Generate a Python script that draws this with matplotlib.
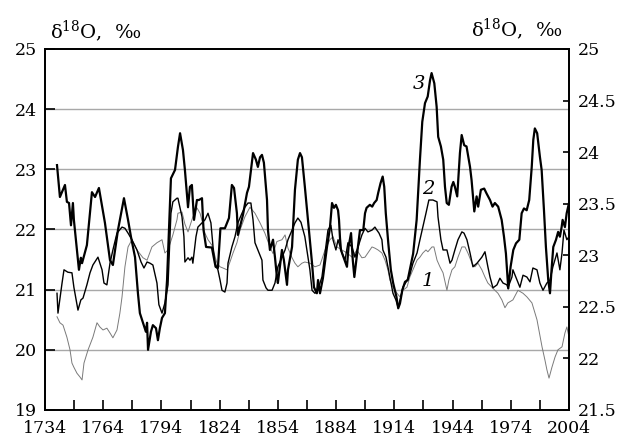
import numpy as np
import matplotlib
matplotlib.use("Agg")
import matplotlib.pyplot as plt

plt.rcParams['font.family'] = ['DejaVu Serif']
plt.rcParams['mathtext.fontset'] = 'dejavuserif'

# curve 1 (thin grey)
years1 = [1740.2, 1741.7, 1743.3, 1745.3, 1746.9, 1747.9, 1748.9, 1750.5, 1752.0, 1753.1,
          1754.1, 1756.2, 1758.7, 1760.8, 1762.3, 1763.9, 1765.9, 1767.5, 1769.0, 1771.1,
          1772.6, 1773.7, 1775.2, 1776.8, 1778.8, 1781.4, 1784.5, 1786.6, 1789.1, 1791.7,
          1794.3, 1795.8, 1797.4, 1799.9, 1802.0, 1802.5, 1804.6, 1806.1, 1807.7, 1810.2,
          1812.3, 1813.9, 1815.4, 1816.4, 1818.0, 1820.0, 1822.6, 1824.2, 1825.7, 1827.8,
          1829.3, 1830.9, 1832.9, 1834.5, 1837.0, 1839.6, 1842.2, 1844.8, 1847.3, 1849.9,
          1851.5, 1853.5, 1856.1, 1857.7, 1859.2, 1861.3, 1862.8, 1864.3, 1866.4, 1867.9,
          1870.5, 1873.1, 1875.7, 1878.3, 1880.8, 1882.4, 1884.4, 1887.0, 1889.6, 1892.2,
          1894.7, 1897.3, 1898.9, 1900.4, 1902.5, 1904.0, 1905.6, 1907.6, 1909.2, 1910.7,
          1911.7, 1913.3, 1915.4, 1916.9, 1918.4, 1920.5, 1922.0, 1923.6, 1925.7, 1927.2,
          1928.7, 1930.3, 1931.3, 1933.4, 1934.4, 1936.0, 1937.5, 1939.1, 1941.1, 1942.1,
          1943.7, 1945.2, 1946.8, 1948.8, 1950.4, 1951.9, 1954.0, 1955.5, 1957.1, 1959.1,
          1960.7, 1962.2, 1964.3, 1965.8, 1967.4, 1969.4, 1971.0, 1972.5, 1975.1, 1977.7,
          1980.3, 1982.3, 1984.9, 1987.5, 1990.1, 1991.6, 1992.6, 1993.7, 1995.2, 1996.8,
          1998.3, 2000.4, 2001.9, 2002.9, 2004.0]
vals1 = [20.55, 20.45, 20.41, 20.21, 20.00, 19.78, 19.71, 19.61, 19.55, 19.50,
         19.78, 20.00, 20.21, 20.45, 20.38, 20.33, 20.36, 20.28, 20.20, 20.33,
         20.61, 20.88, 21.38, 21.71, 21.83, 21.66, 21.53, 21.49, 21.71, 21.78,
         21.83, 21.61, 21.66, 21.91, 22.16, 22.27, 22.29, 22.09, 21.96, 22.21,
         22.36, 22.27, 22.09, 21.94, 21.83, 21.74, 21.44, 21.38, 21.36, 21.33,
         21.46, 21.61, 21.78, 21.99, 22.21, 22.37, 22.27, 22.11, 21.94, 21.71,
         21.60, 21.80, 21.83, 21.91, 21.69, 21.53, 21.44, 21.38, 21.44, 21.46,
         21.44, 21.38, 21.41, 21.66, 21.83, 21.88, 21.71, 21.66, 21.61, 21.54,
         21.66, 21.53, 21.54, 21.61, 21.71, 21.69, 21.66, 21.61, 21.49, 21.33,
         21.16, 21.04, 20.94, 20.88, 20.99, 21.04, 21.21, 21.33, 21.49, 21.54,
         21.61, 21.66, 21.63, 21.71, 21.71, 21.49, 21.38, 21.28, 20.99, 21.16,
         21.33, 21.38, 21.54, 21.71, 21.71, 21.61, 21.44, 21.38, 21.44, 21.33,
         21.21, 21.11, 21.04, 20.99, 20.94, 20.83, 20.70, 20.78, 20.83, 20.99,
         20.94, 20.88, 20.78, 20.50, 20.05, 19.83, 19.67, 19.53, 19.71, 19.88,
         20.00, 20.05, 20.28, 20.38, 20.21]

# curve 2 (medium black)
years2 = [1740.2, 1740.7, 1742.8, 1743.8, 1745.8, 1747.9, 1748.9, 1751.0, 1752.5, 1753.6,
          1755.6, 1757.2, 1758.7, 1761.3, 1763.4, 1764.4, 1765.9, 1767.5, 1769.0, 1771.1,
          1773.7, 1775.2, 1776.8, 1778.8, 1781.4, 1783.5, 1785.0, 1786.6, 1788.1, 1789.6,
          1791.7, 1792.7, 1794.3, 1795.8, 1797.4, 1798.9, 1799.9, 1802.0, 1802.5, 1804.6,
          1805.6, 1806.1, 1807.7, 1808.7, 1809.7, 1810.2, 1811.8, 1812.8, 1814.9, 1816.4,
          1818.0, 1819.5, 1820.6, 1821.6, 1823.1, 1824.2, 1825.2, 1826.7, 1827.8, 1828.3,
          1830.3, 1831.9, 1833.4, 1835.5, 1837.0, 1838.6, 1840.1, 1841.2, 1842.2, 1843.7,
          1845.8, 1846.3, 1847.9, 1848.9, 1851.0, 1852.5, 1854.0, 1856.1, 1857.7, 1859.2,
          1861.3, 1862.8, 1864.3, 1865.9, 1867.9, 1869.5, 1870.5, 1871.6, 1873.1, 1874.7,
          1875.7, 1876.7, 1878.3, 1879.8, 1881.3, 1882.4, 1883.9, 1885.0, 1887.0, 1888.6,
          1890.1, 1892.2, 1893.7, 1895.3, 1897.3, 1898.9, 1900.4, 1902.5, 1904.0, 1905.0,
          1906.1, 1907.6, 1908.1, 1909.7, 1910.7, 1912.3, 1913.3, 1914.8, 1915.9, 1917.4,
          1918.4, 1920.5, 1922.0, 1923.6, 1925.7, 1927.2, 1928.7, 1930.3, 1931.8, 1933.9,
          1936.0, 1936.5, 1938.0, 1939.1, 1941.1, 1942.7, 1943.7, 1945.2, 1946.8, 1948.8,
          1949.9, 1951.4, 1953.0, 1954.5, 1956.6, 1959.1, 1960.7, 1962.2, 1963.3, 1964.8,
          1966.9, 1968.4, 1970.0, 1972.0, 1972.5, 1974.6, 1975.1, 1977.2, 1978.7, 1980.3,
          1982.3, 1983.9, 1985.4, 1987.5, 1989.0, 1990.6, 1992.6, 1994.2, 1995.7, 1997.8,
          1999.3, 2000.4, 2001.4, 2002.9, 2004.0]
vals2 = [20.94, 20.61, 21.11, 21.33, 21.29, 21.28, 21.04, 20.66, 20.83, 20.86,
         21.08, 21.28, 21.41, 21.54, 21.33, 21.11, 21.08, 21.44, 21.66, 21.94,
         22.04, 22.02, 21.94, 21.83, 21.66, 21.46, 21.36, 21.46, 21.44, 21.41,
         21.11, 20.75, 20.61, 20.78, 21.08, 22.27, 22.46, 22.52, 22.52, 22.21,
         21.88, 21.46, 21.53, 21.49, 21.54, 21.44, 21.88, 22.04, 22.11, 22.16,
         22.27, 22.11, 21.71, 21.44, 21.33, 21.16, 20.99, 20.96, 21.11, 21.44,
         21.71, 21.88, 22.11, 22.27, 22.37, 22.44, 22.44, 22.16, 21.78, 21.66,
         21.49, 21.16, 21.03, 20.99, 20.99, 21.11, 21.38, 21.54, 21.66, 21.83,
         21.99, 22.11, 22.19, 22.12, 21.88, 21.54, 21.33, 20.99, 20.94, 20.99,
         21.11, 21.21, 21.61, 21.99, 22.07, 21.83, 21.66, 21.83, 21.61, 21.49,
         21.78, 21.71, 21.54, 21.71, 21.91, 22.02, 21.96, 21.99, 22.04, 21.99,
         21.94, 21.83, 21.66, 21.54, 21.38, 21.11, 20.94, 20.83, 20.71, 20.88,
         21.04, 21.15, 21.25, 21.44, 21.61, 21.83, 22.04, 22.27, 22.49, 22.49,
         22.46, 22.21, 21.83, 21.66, 21.66, 21.44, 21.49, 21.66, 21.83, 21.96,
         21.94, 21.83, 21.61, 21.38, 21.44, 21.54, 21.63, 21.38, 21.21, 21.03,
         21.08, 21.19, 21.11, 21.08, 21.03, 21.21, 21.33, 21.16, 21.04, 21.24,
         21.21, 21.13, 21.36, 21.33, 21.11, 20.99, 21.11, 21.16, 21.38, 21.61,
         21.33, 21.61, 21.99, 21.83, 21.88]

# curve 3 (thick black)
years3 = [1740.2, 1741.7, 1744.3, 1745.3, 1746.4, 1747.4, 1748.4, 1748.9, 1751.5, 1752.5,
          1753.1, 1755.6, 1758.2, 1759.8, 1761.8, 1764.9, 1767.5, 1769.0, 1771.6, 1774.7,
          1776.8, 1778.3, 1780.4, 1781.9, 1782.9, 1784.5, 1786.0, 1786.6, 1787.1, 1788.6,
          1789.6, 1791.2, 1792.2, 1793.2, 1794.3, 1795.8, 1796.9, 1798.9, 1801.0, 1802.5,
          1803.6, 1805.1, 1806.1, 1807.7, 1808.7, 1809.7, 1810.8, 1812.3, 1813.3, 1814.9,
          1815.7, 1817.0, 1820.0, 1821.9, 1823.1, 1824.4, 1826.7, 1828.8, 1830.3, 1831.4,
          1832.9, 1833.4, 1835.0, 1836.0, 1838.1, 1839.1, 1840.6, 1841.2, 1842.7, 1843.7,
          1844.8, 1845.8, 1846.8, 1848.4, 1848.9, 1849.9, 1851.5, 1852.5, 1853.5, 1854.0,
          1856.1, 1857.1, 1858.7, 1859.2, 1861.3, 1862.8, 1864.3, 1865.4, 1866.4, 1867.9,
          1869.5, 1870.5, 1871.6, 1872.6, 1874.1, 1874.7, 1875.7, 1877.2, 1879.3, 1880.8,
          1881.9, 1882.9, 1883.9, 1885.0, 1885.5, 1886.0, 1886.5, 1887.7, 1889.6, 1890.4,
          1891.7, 1892.6, 1893.4, 1894.6, 1896.3, 1898.0, 1898.9, 1899.7, 1901.4, 1902.6,
          1903.6, 1904.9, 1905.7, 1906.9, 1908.0, 1908.8, 1909.6, 1910.9, 1912.2, 1913.4,
          1915.1, 1916.0, 1916.9, 1918.1, 1919.5, 1920.9, 1922.0, 1923.7, 1925.5, 1927.2,
          1928.4, 1929.8, 1931.2, 1932.4, 1933.2, 1934.6, 1935.8, 1936.6, 1938.0, 1939.2,
          1940.1, 1941.0, 1942.1, 1943.5, 1944.4, 1945.2, 1946.4, 1947.8, 1948.7, 1950.0,
          1951.2, 1953.0, 1953.8, 1955.2, 1956.4, 1957.2, 1958.6, 1960.3, 1961.5, 1963.3,
          1964.6, 1965.8, 1967.5, 1969.3, 1970.5, 1971.5, 1972.7, 1973.9, 1975.3, 1976.7,
          1978.4, 1979.6, 1980.8, 1982.2, 1983.5, 1984.8, 1985.6, 1986.4, 1987.6, 1989.0,
          1989.9, 1991.1, 1992.1, 1993.3, 1994.2, 1995.0, 1995.9, 1997.3, 1998.4, 1999.3,
          2000.2, 2000.7, 2001.9, 2002.8, 2004.0]
vals3 = [23.07, 22.54, 22.74, 22.46, 22.44, 22.07, 22.44, 22.16, 21.33, 21.53,
         21.44, 21.74, 22.62, 22.54, 22.69, 22.11, 21.49, 21.41, 21.99, 22.52,
         22.16, 21.88, 21.54, 20.94, 20.61, 20.45, 20.30, 20.45, 20.00, 20.30,
         20.41, 20.36, 20.16, 20.36, 20.53, 20.61, 21.16, 22.85, 22.99, 23.37,
         23.60, 23.32, 22.99, 22.37, 22.71, 22.74, 22.16, 22.49, 22.49, 22.52,
         21.99, 21.71, 21.70, 21.38, 21.36, 22.02, 22.02, 22.19, 22.74, 22.69,
         22.27, 21.91, 22.11, 22.24, 22.61, 22.71, 23.11, 23.27, 23.16, 23.04,
         23.20, 23.24, 23.11, 22.49, 21.99, 21.66, 21.83, 21.54, 21.21, 21.11,
         21.66, 21.49, 21.08, 21.33, 21.71, 22.66, 23.16, 23.27, 23.20, 22.71,
         22.16, 21.83, 21.44, 21.04, 20.94, 21.16, 20.94, 21.19, 21.71, 22.02,
         22.44, 22.36, 22.41, 22.32, 22.16, 21.86, 21.66, 21.55, 21.38, 21.71,
         21.94, 21.49, 21.21, 21.54, 21.99, 21.99, 22.27, 22.36, 22.41, 22.38,
         22.44, 22.49, 22.61, 22.77, 22.88, 22.71, 22.27, 21.77, 21.33, 21.11,
         20.88, 20.69, 20.77, 20.99, 21.13, 21.16, 21.33, 21.60, 22.16, 23.16,
         23.79, 24.10, 24.21, 24.48, 24.60, 24.43, 24.04, 23.54, 23.38, 23.16,
         22.71, 22.44, 22.41, 22.71, 22.79, 22.71, 22.55, 23.27, 23.57, 23.40,
         23.38, 23.04, 22.82, 22.30, 22.55, 22.38, 22.66, 22.68, 22.60, 22.49,
         22.38, 22.44, 22.38, 22.16, 21.88, 21.60, 21.02, 21.38, 21.66, 21.77,
         21.83, 22.27, 22.35, 22.32, 22.49, 23.04, 23.49, 23.68, 23.60, 23.21,
         22.99, 22.32, 21.71, 21.16, 20.94, 21.33, 21.71, 21.83, 21.96, 21.88,
         22.04, 22.16, 22.04, 22.27, 22.44]

x_major = [1734, 1764, 1794, 1824, 1854, 1884, 1914, 1944, 1974, 2004]
x_minor = [1749, 1779, 1809, 1839, 1869, 1899, 1929, 1959, 1989]
left_ticks = [19, 20, 21, 22, 23, 24, 25]
right_ticks = [21.5, 22, 22.5, 23, 23.5, 24, 24.5, 25]
right_labels = ['21.5', '22', '22.5', '23', '23.5', '24', '24.5', '25']
ylabel = r'δ$^{18}$O,  ‰'

fig = plt.figure(figsize=(6.22, 4.41), dpi=100)
ax = fig.add_axes([0.0723, 0.0703, 0.8425, 0.8186])

for v in left_ticks[1:-1]:
    ax.axhline(v, color='#a8a8a8', lw=1.0, zorder=1)

ax.plot(years1, vals1, color='#7a7a7a', lw=0.7, zorder=2)
ax.plot(years2, vals2, color='black', lw=1.0, zorder=3)
ax.plot(years3, vals3, color='black', lw=1.6, zorder=4)

ax.set_xlim(1734, 2004)
ax.set_ylim(19, 25)
ax.set_xticks(x_major)
ax.set_xticks(x_minor, minor=True)
ax.set_yticks(left_ticks)
ax.tick_params(axis='x', which='both', direction='in', length=7, width=1.2,
               labelsize=12.5, pad=7)
ax.tick_params(axis='y', direction='in', length=7, width=1.2, labelsize=12.5, pad=6)
for s in ax.spines.values():
    s.set_linewidth(1.3)

ax2 = ax.twinx()
ax2.set_ylim(21.5, 25)
ax2.set_yticks(right_ticks)
ax2.set_yticklabels(right_labels)
ax2.tick_params(axis='y', direction='in', length=4.5, width=1.2, labelsize=12.5, pad=6)
for s in ax2.spines.values():
    s.set_linewidth(1.3)

fig.text(0.080, 0.914, ylabel, fontsize=14, ha='left', va='baseline')
fig.text(0.904, 0.918, ylabel, fontsize=14, ha='right', va='baseline')

ax.text(1926.5, 24.42, '3', fontsize=14, style='italic', ha='center', va='center')
ax.text(1931.5, 22.68, '2', fontsize=14, style='italic', ha='center', va='center')
ax.text(1931.5, 21.15, '1', fontsize=14, style='italic', ha='center', va='center')

fig.savefig('out.png', dpi=100)
